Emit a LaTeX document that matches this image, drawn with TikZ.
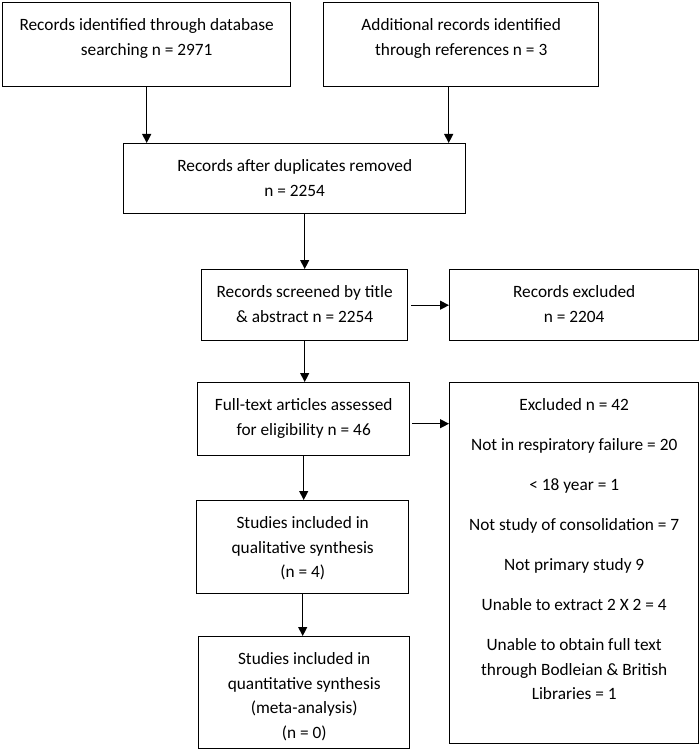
\documentclass[tikz,border=0pt]{standalone}
\usepackage{fontspec}
\setmainfont{Carlito}
\usetikzlibrary{arrows.meta,calc}
\tikzset{
  box/.style={draw, line width=1.4pt, inner sep=0pt, anchor=north west},
  txt/.style={font=\fontsize{17.3}{24.5}\selectfont, align=center, inner sep=0pt, anchor=north},
  arr/.style={line width=1.2pt, -{Triangle[length=9pt,width=9pt]}}
}
\begin{document}
\begin{tikzpicture}[x=1pt,y=-1pt]
\useasboundingbox (0,0) rectangle (700,751);
\node[box, minimum width=288, minimum height=84] (A) at (2,2) {};
\node[box, minimum width=275, minimum height=84] (B) at (323,2) {};
\node[box, minimum width=342, minimum height=70] (C) at (123,143) {};
\node[box, minimum width=206, minimum height=71] (D) at (201,269) {};
\node[box, minimum width=212, minimum height=73] (E) at (197,382) {};
\node[box, minimum width=249, minimum height=71] (X1) at (449,269) {};
\node[box, minimum width=249, minimum height=361] (X2) at (449,382) {};
\node[box, minimum width=212, minimum height=93] (F) at (196,500) {};
\node[box, minimum width=211, minimum height=112] (G) at (198,636) {};

\node[txt] (tA) at ([yshift=-16.5]A.north) {Records identified through database\\searching n = 2971};
\node[txt] (tB) at ([yshift=-16.5]B.north) {Additional records identified\\through references n = 3};
\node[txt] (tC) at ([yshift=-16.5]C.north) {Records after duplicates removed\\n = 2254};
\node[txt] (tD) at ([yshift=-16.5]D.north) {Records screened by title\\\& abstract n = 2254};
\node[txt] (tE) at ([yshift=-16.5]E.north) {Full-text articles assessed\\for eligibility n = 46};
\node[txt] (tX1) at ([yshift=-16.5]X1.north) {Records excluded\\n = 2204};
\node[txt] (tX2) at ([yshift=-16.5]X2.north) {Excluded n = 42\\[15.5pt]Not in respiratory failure = 20\\[15.5pt]< 18 year = 1\\[15.5pt]Not study of consolidation = 7\\[15.5pt]Not primary study 9\\[15.5pt]Unable to extract 2 X 2 = 4\\[15.5pt]Unable to obtain full text\\through Bodleian \& British\\Libraries = 1};
\node[txt] (tF) at ([yshift=-16.5]F.north) {Studies included in\\qualitative synthesis\\(n = 4)};
\node[txt] (tG) at ([yshift=-16.5]G.north) {Studies included in\\quantitative synthesis\\(meta-analysis)\\(n = 0)};

\coordinate (bs) at ([xshift=-12.5]B.south);
\draw[arr] (A.south) -- (A.south |- C.north);
\draw[arr] (bs) -- (bs |- C.north);
\draw[arr] (D.north |- C.south) -- (D.north);
\draw[arr] (D.south) -- (D.south |- E.north);
\draw[arr] (E.south) -- (E.south |- F.north);
\draw[arr] (F.south) -- (F.south |- G.north);
\coordinate (ds) at ([xshift=3]D.east);
\draw[arr] (ds) -- (ds -| X1.west);
\coordinate (es) at ([xshift=2,yshift=-4.5]E.east);
\draw[arr] (es) -- (es -| X2.west);
\end{tikzpicture}
\end{document}
